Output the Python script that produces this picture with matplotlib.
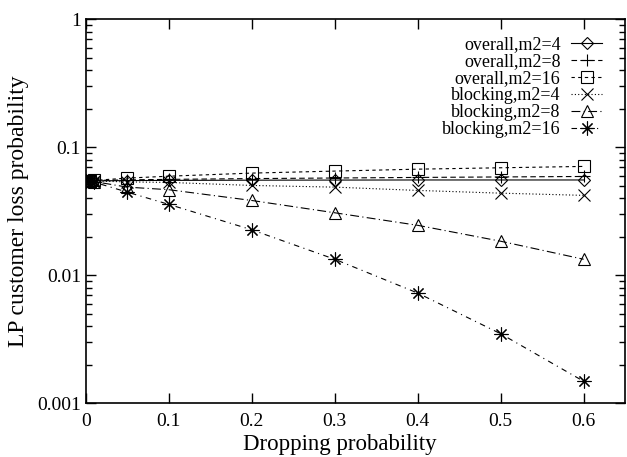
import matplotlib
matplotlib.use("Agg")
import matplotlib.pyplot as plt
from matplotlib.ticker import LogLocator, NullFormatter, FixedLocator

plt.rcParams['font.family'] = ['Liberation Serif', 'DejaVu Serif']

x = [0.0, 0.005, 0.01, 0.05, 0.1, 0.2, 0.3, 0.4, 0.5, 0.6]

overall_m2_4 = [0.0545, 0.0545, 0.0545, 0.0548, 0.0550, 0.0552, 0.0553, 0.0554, 0.0554, 0.0554]
overall_m2_8 = [0.0545, 0.0547, 0.0549, 0.0555, 0.0560, 0.0568, 0.0574, 0.0580, 0.0585, 0.0590]
overall_m2_16 = [0.0545, 0.0547, 0.0550, 0.0573, 0.0593, 0.0627, 0.0650, 0.0673, 0.0690, 0.0707]
blocking_m2_4 = [0.0545, 0.0545, 0.0544, 0.0535, 0.0530, 0.0502, 0.0487, 0.0459, 0.0437, 0.0420]
blocking_m2_8 = [0.0545, 0.0542, 0.0538, 0.0487, 0.0465, 0.0383, 0.0307, 0.0245, 0.0184, 0.0133]
blocking_m2_16 = [0.0545, 0.0540, 0.0532, 0.0445, 0.0357, 0.0226, 0.0133, 0.00724, 0.00348, 0.00148]

labels = ["overall,m2=4", "overall,m2=8", "overall,m2=16",
          "blocking,m2=4", "blocking,m2=8", "blocking,m2=16"]
series = [overall_m2_4, overall_m2_8, overall_m2_16,
          blocking_m2_4, blocking_m2_8, blocking_m2_16]
markers = ['D', '+', 's', 'x', '^', (8, 2, 0)]
msizes = [6, 9, 8, 9, 8, 10]
styles = ['-', (0, (5, 3)), (0, (3, 3)), (0, (1, 2)), (0, (8, 3, 1, 3)), (0, (5, 4, 1, 4))]

fig = plt.figure(figsize=(6.27, 4.57), dpi=100)
ax = fig.add_axes([0.137, 0.118, 0.860, 0.840])

for ys, lab, m, ms, ls in zip(series, labels, markers, msizes, styles):
    ax.plot(x, ys, color='black', linestyle=ls, linewidth=0.8, label=lab,
            marker=m, markersize=ms, markerfacecolor='none',
            markeredgecolor='black', markeredgewidth=0.8)

ax.set_yscale('log')
ax.set_xlim(0, 0.65)
ax.set_ylim(0.001, 1)
ax.xaxis.set_major_locator(FixedLocator([0, 0.1, 0.2, 0.3, 0.4, 0.5, 0.6]))
ax.set_xticklabels(['0', '0.1', '0.2', '0.3', '0.4', '0.5', '0.6'])
ax.yaxis.set_major_locator(FixedLocator([0.001, 0.01, 0.1, 1]))
ax.set_yticklabels(['0.001', '0.01', '0.1', '1'])
ax.yaxis.set_minor_locator(LogLocator(base=10, subs=range(2, 10)))
ax.yaxis.set_minor_formatter(NullFormatter())
ax.tick_params(which='both', direction='in', top=True, right=True, labelsize=14)
ax.tick_params(which='major', length=7, width=1)
ax.tick_params(which='minor', length=4, width=1)
ax.tick_params(axis='x', pad=7)
for s in ax.spines.values():
    s.set_linewidth(1.2)

ax.set_xlabel('Dropping probability', fontsize=16.5)
ax.xaxis.set_label_coords(0.471, -0.080)
ax.set_ylabel('LP customer loss probability', fontsize=17, labelpad=6)

leg = ax.legend(loc='upper right', bbox_to_anchor=(0.989, 1.0), frameon=False,
                markerfirst=False, fontsize=13,
                handlelength=1.7, labelspacing=0.0, borderaxespad=0.55,
                handletextpad=0.6)

fig.savefig('out.png', dpi=100)
